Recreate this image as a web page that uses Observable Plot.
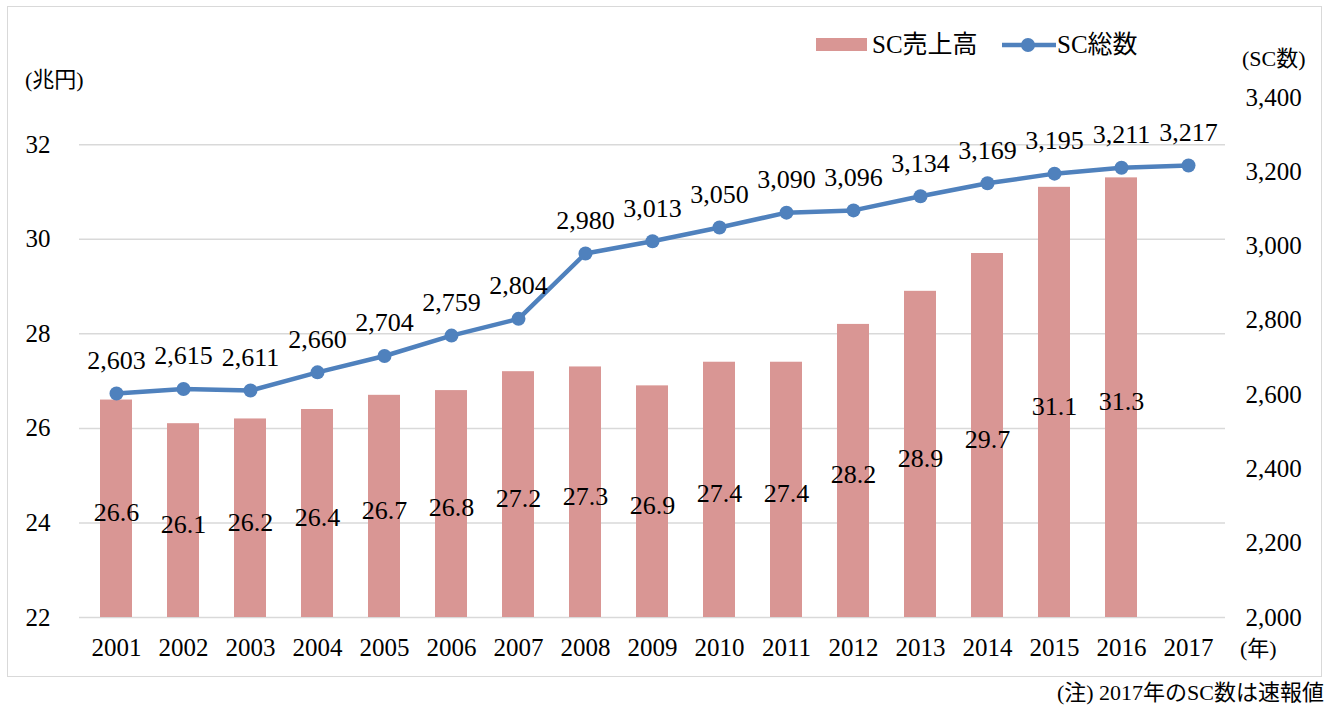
<!DOCTYPE html>
<html>
<head>
<meta charset="utf-8">
<script src="https://cdn.jsdelivr.net/npm/d3@7"></script>
<script src="https://cdn.jsdelivr.net/npm/@observablehq/plot@0.6"></script>
<style>
  html, body { margin: 0; padding: 0; background: #fff; }
  #wrap { position: relative; width: 1330px; height: 707px; font-family: "Liberation Serif", "Noto Sans CJK JP", serif; color: #000; }
  #frame { position: absolute; left: 7px; top: 6px; width: 1315px; height: 671px; border: 1.5px solid #d9d9d9; box-sizing: border-box; }
  .lbl { position: absolute; white-space: nowrap; font-size: 22px; line-height: 1; }
  #chart { position: absolute; left: 0; top: 0; }
</style>
</head>
<body>
<div id="wrap">
  <div id="frame"></div>
  <div id="chart"></div>
  <div class="lbl" style="left:25px; top:69px;">(兆円)</div>
  <div class="lbl" style="left:1242px; top:48px;">(SC数)</div>
  <div class="lbl" style="left:1240px; top:638px;">(年)</div>
  <div style="position:absolute; left:816px; top:38px; width:51px; height:13px; background:#d99694;"></div>
  <div class="lbl" style="left:872px; top:32px; font-size:25px;">SC売上高</div>
  <svg style="position:absolute; left:1000px; top:34px;" width="58" height="22">
    <line x1="2" y1="11" x2="56" y2="11" stroke="#4f81bd" stroke-width="4.5"/>
    <circle cx="28" cy="11" r="7" fill="#4f81bd"/>
  </svg>
  <div class="lbl" style="left:1057px; top:32px; font-size:25px;">SC総数</div>
  <div class="lbl" style="right:6px; top:682px; font-size:22px;">(注) 2017年のSC数は速報値</div>
</div>
<script>
const years = ["2001","2002","2003","2004","2005","2006","2007","2008","2009","2010","2011","2012","2013","2014","2015","2016","2017"];
const sales = [26.6,26.1,26.2,26.4,26.7,26.8,27.2,27.3,26.9,27.4,27.4,28.2,28.9,29.7,31.1,31.3,null];
const scCount = [2603,2615,2611,2660,2704,2759,2804,2980,3013,3050,3090,3096,3134,3169,3195,3211,3217];
const leftTicks = [22,24,26,28,30,32];
const rightTicks = [2000,2200,2400,2600,2800,3000,3200,3400];
const leftDomain = [22,33];
const rightDomain = [2000,3400];

const toLeft = v => leftDomain[0] + (v - rightDomain[0]) * (leftDomain[1]-leftDomain[0]) / (rightDomain[1]-rightDomain[0]);
const rows = years.map((y,i) => ({year: y, sales: sales[i], sc: scCount[i]}));
const barRows = rows.filter(d => d.sales != null);
const fmt = d3.format(",");

const chart = Plot.plot({
  width: 1330,
  height: 707,
  marginTop: 97,
  marginBottom: 90,
  marginLeft: 79,
  marginRight: 105,
  style: { fontFamily: '"Liberation Serif", "Noto Sans CJK JP", serif', fontSize: "25px", color: "#000", background: "transparent" },
  x: { domain: years, paddingInner: 0.525, paddingOuter: 0.2625, align: 0.5 },
  y: { domain: leftDomain },
  marks: [
    Plot.gridY(leftTicks, { stroke: "#d9d9d9", strokeOpacity: 1, strokeWidth: 1.5 }),
    Plot.barY(barRows, { x: "year", y1: leftDomain[0], y2: "sales", fill: "#d99694" }),
    Plot.text(barRows, { x: "year", y: d => (leftDomain[0] + d.sales) / 2, text: d => d.sales.toFixed(1), fontSize: 26, dy: 4, fill: "#000" }),
    Plot.line(rows, { x: "year", y: d => toLeft(d.sc), stroke: "#4f81bd", strokeWidth: 4.5 }),
    Plot.dot(rows, { x: "year", y: d => toLeft(d.sc), r: 7, fill: "#4f81bd", stroke: "none" }),
    Plot.text(rows, { x: "year", y: d => toLeft(d.sc), text: d => fmt(d.sc), fontSize: 26, dy: -33, fill: "#000" }),
    Plot.axisY(leftTicks, { anchor: "left", tickSize: 0, tickPadding: 29, label: null, fontSize: 25 }),
    Plot.axisY(rightTicks.map(toLeft), { anchor: "right", tickSize: 0, tickPadding: 20, label: null, fontSize: 25, tickFormat: (d, i) => fmt(rightTicks[i]) }),
    Plot.axisX({ tickSize: 0, tickPadding: 21, label: null, fontSize: 25 })
  ]
});
document.getElementById("chart").appendChild(chart);
</script>
</body>
</html>
